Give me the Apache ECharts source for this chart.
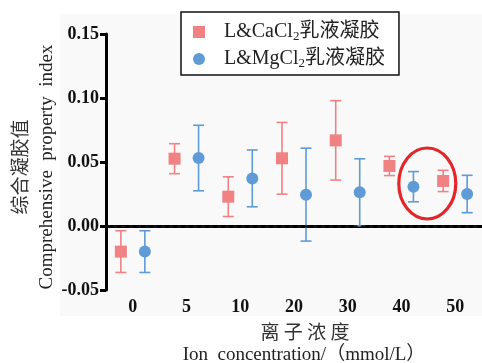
<!DOCTYPE html>
<html><head><meta charset="utf-8">
<script src="https://cdn.jsdelivr.net/npm/echarts@6/dist/echarts.min.js"></script>
<style>html,body{margin:0;padding:0;background:#fff}#c{width:482px;height:363px}</style>
</head><body><div id="c"></div>
<script>
var categories = ['0', '5', '10', '20', '30', '40', '50'];
var caMean = [-0.020, 0.0526, 0.0229, 0.0529, 0.0669, 0.0469, 0.0352];
var caSd   = [0.0163, 0.0117, 0.0155, 0.0280, 0.0310, 0.0075, 0.0083];
var mgMean = [-0.020, 0.0531, 0.0372, 0.0245, 0.0263, 0.0307, 0.0250];
var mgSd   = [0.0163, 0.0256, 0.0222, 0.0363, 0.0262, 0.0118, 0.0146];
var yTicks = [-0.05, 0.00, 0.05, 0.10, 0.15];
var seriesNames = ['L&CaCl2乳液凝胶', 'L&MgCl2乳液凝胶'];
var legendLabels = ['L&CaCl{sub|2}乳液凝胶', 'L&MgCl{sub|2}乳液凝胶'];

var RED = '#f08284', BLUE = '#5e9bd7';
var SERIF = '"Liberation Serif","DejaVu Serif","Noto Sans CJK SC",serif';
var OFF = 12;

function errData(mean, sd) {
  return mean.map(function (m, i) { return [i, m, m - sd[i], m + sd[i]]; });
}
function errRender(offset, color) {
  return function (params, api) {
    var i = api.value(0);
    var lo = api.coord([i, api.value(2)]);
    var hi = api.coord([i, api.value(3)]);
    var x = lo[0] + offset, cap = 5.5;
    var st = { stroke: color, lineWidth: 1.6 };
    return { type: 'group', children: [
      { type: 'line', shape: { x1: x, y1: lo[1], x2: x, y2: hi[1] }, style: st },
      { type: 'line', shape: { x1: x - cap, y1: lo[1], x2: x + cap, y2: lo[1] }, style: st },
      { type: 'line', shape: { x1: x - cap, y1: hi[1], x2: x + cap, y2: hi[1] }, style: st }
    ]};
  };
}

var chart = echarts.init(document.getElementById('c'), null, { renderer: 'canvas' });
var option = {
  animation: false,
  backgroundColor: '#fff',
  color: [RED, BLUE],
  grid: { left: 106, top: 34, height: 256, width: 383, containLabel: false },
  xAxis: {
    type: 'category', data: categories,
    axisLine: { lineStyle: { color: '#000', width: 3 } },
    axisTick: { alignWithLabel: true, length: 6, lineStyle: { color: '#000', width: 3 } },
    axisLabel: { color: '#111', fontFamily: SERIF, fontWeight: 'bold', fontSize: 18, margin: 8 },
    splitLine: { show: false }
  },
  yAxis: {
    type: 'value', min: yTicks[0], max: yTicks[yTicks.length - 1], interval: 0.05,
    axisLine: { show: true, lineStyle: { color: '#000', width: 3 } },
    axisTick: { show: true, length: 6, lineStyle: { color: '#000', width: 3 } },
    axisLabel: { color: '#111', fontFamily: SERIF, fontWeight: 'bold', fontSize: 18, margin: 7,
      formatter: function (v) { return v.toFixed(2); } },
    splitLine: { show: false }
  },
  legend: {
    left: 181, top: 12, orient: 'vertical',
    backgroundColor: '#fff', borderColor: '#111', borderWidth: 1.5, borderRadius: 0,
    padding: [9, 14, 5, 12], itemGap: 5, itemWidth: 12, itemHeight: 12,
    data: [{ name: seriesNames[0], icon: 'rect', itemStyle: { color: RED } },
           { name: seriesNames[1], icon: 'circle', itemStyle: { color: BLUE } }],
    formatter: function (n) { return legendLabels[seriesNames.indexOf(n)]; },
    textStyle: { fontFamily: SERIF, fontSize: 20, color: '#222', padding: [0, 0, 0, 14], lineHeight: 22,
      rich: { sub: { fontFamily: SERIF, fontSize: 13, color: '#222', verticalAlign: 'bottom', lineHeight: 22, padding: [8, 0, 0, 0] } } }
  },
  graphic: [
    { type: 'rect', z: -10, silent: true, shape: { x: 60, y: 14, width: 422, height: 302 }, style: { fill: '#f9f9f9' } },
    { type: 'text', x: 20, y: 167, rotation: Math.PI / 2, style: { text: '综合凝胶值', font: '19px "Noto Sans CJK SC"', fill: '#333', align: 'center', verticalAlign: 'middle' } },
    { type: 'text', x: 47, y: 167, rotation: Math.PI / 2, style: { text: 'Comprehensive  property  index', font: '19px "Liberation Serif"', fill: '#222', align: 'center', verticalAlign: 'middle' } },
    { type: 'text', x: 305, y: 332, style: { text: '离 子 浓 度', font: '19px "Noto Sans CJK SC"', fill: '#333', align: 'center', verticalAlign: 'middle' } },
    { type: 'text', x: 304, y: 355, style: { text: 'Ion  concentration/（mmol/L）', font: '19px "Liberation Serif","Noto Sans CJK SC"', fill: '#222', align: 'center', verticalAlign: 'middle' } }
  ],
  series: [
    { name: seriesNames[0], type: 'custom', renderItem: errRender(-OFF, RED), data: errData(caMean, caSd),
      itemStyle: { color: RED }, encode: { x: 0, y: [1, 2, 3] }, z: 3, silent: true,
      markLine: { silent: true, symbol: 'none', label: { show: false },
        lineStyle: { color: '#111', type: [2.5, 5.5], width: 2.5, cap: 'round' }, data: [{ yAxis: 0 }] } },
    { name: seriesNames[1], type: 'custom', renderItem: errRender(OFF, BLUE), data: errData(mgMean, mgSd),
      itemStyle: { color: BLUE }, encode: { x: 0, y: [1, 2, 3] }, z: 3, silent: true },
    { name: seriesNames[0], type: 'scatter', symbol: 'rect', symbolSize: 12, symbolOffset: [-OFF, 0],
      itemStyle: { color: RED, opacity: 1 }, data: caMean.map(function (v, i) { return [i, v]; }), z: 4 },
    { name: seriesNames[1], type: 'scatter', symbol: 'circle', symbolSize: 12, symbolOffset: [OFF, 0],
      itemStyle: { color: BLUE, opacity: 1 }, data: mgMean.map(function (v, i) { return [i, v]; }), z: 4 }
  ]
};
chart.setOption(option);
var c40 = chart.convertToPixel({ xAxisIndex: 0 }, '40');
var c50 = chart.convertToPixel({ xAxisIndex: 0 }, '50');
var cy = chart.convertToPixel({ yAxisIndex: 0 }, 0.0332);
option.graphic.push({ type: 'ellipse', z: 10, silent: true,
  shape: { cx: (c40 + c50) / 2 - 1, cy: cy, rx: 28.5, ry: 35.5 },
  style: { fill: 'none', stroke: '#e4262b', lineWidth: 3.2 } });
chart.setOption({ graphic: option.graphic });
</script>
</body></html>
